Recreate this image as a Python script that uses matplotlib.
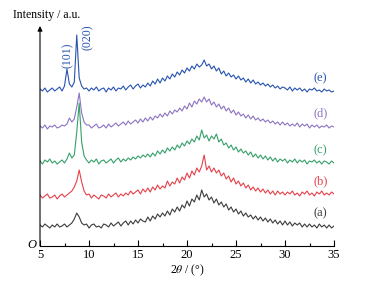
import numpy as np
import matplotlib.pyplot as plt

# 2theta scan, 0.25 deg steps from 5 to 35
two_theta = np.arange(5, 35.001, 0.25)

# relative intensities (a.u.)
a = [1, -1, 2, 0, -2, 1, -1, 2, -1, 0, 2, -1,
     1, 3, 7, 13, 9, 3, 1, 2,
     -2, 1, 2, -1, 0, -2, 2, 1,
     -1, 3, 0, 2, 4, 0, 3, 5,
     1, 5, 2, 6, 3, 7, 5, 4,
     9, 5, 10, 7, 12, 9, 13, 10,
     15, 11, 17, 14, 19, 15, 21, 18,
     25, 20, 27, 24, 31, 26, 36, 29,
     32, 26, 29, 23, 27, 21, 24, 19,
     22, 16, 19, 14, 17, 12, 15, 10,
     13, 9, 11, 7, 10, 6, 9, 5,
     8, 4, 7, 3, 6, 2, 5, 1,
     5, 1, 4, 0, 3, 1, 3, -1,
     2, -1, 2, -1, 1, -2, 2, -1, 1, -2, 1, -2, 0]
b = [2, -1, 1, 3, -1, 0, 2, -2, 1, 3, 0, 2,
     4, 6, 10, 16, 27, 15, 6, 2,
     3, -1, 2, 0, -2, 2, 1, -1,
     3, 0, 2, 4, 0, 3, 1, 4,
     2, 6, 3, 5, 7, 3, 8, 5,
     9, 5, 10, 7, 12, 8, 11, 9,
     16, 11, 15, 13, 19, 14, 20, 17,
     24, 19, 26, 22, 29, 25, 31, 42,
     27, 31, 25, 29, 24, 27, 21, 24,
     18, 21, 15, 19, 13, 16, 11, 14,
     9, 12, 7, 10, 6, 9, 5, 8,
     4, 7, 3, 6, 2, 6, 3, 5,
     2, 5, 3, 6, 2, 4, 1, 5,
     3, 6, 2, 4, 1, 5, 3, 6, 2, 4, 2, 5, 3]
c = [1, -2, 2, 0, 3, -1, 1, -2, 0, 2, -1, 3,
     9, 4, 7, 30, 59, 20, 6, 2,
     -1, 2, 0, 3, -2, 1, 2, -1,
     1, 3, -1, 2, 4, 0, 3, 1,
     4, 2, 5, 3, 6, 4, 7, 5,
     8, 5, 9, 6, 11, 8, 12, 9,
     14, 11, 15, 12, 17, 14, 19, 16,
     21, 18, 23, 20, 26, 22, 32, 24,
     27, 21, 26, 23, 28, 20, 23, 17,
     19, 14, 17, 12, 15, 10, 13, 9,
     11, 7, 10, 5, 8, 4, 7, 3,
     6, 2, 5, 1, 4, 0, 3, 1,
     3, -1, 2, 0, 3, -1, 2, 0,
     2, -2, 1, 0, 2, -1, 1, -2, 1, 0, -2, 1, -1]
d = [1, -1, 2, -2, 1, 0, 2, -1, 0, 2, 1, 3,
     9, 5, 8, 20, 34, 14, 5, 2,
     2, -1, 1, 3, -1, 0, 2, -1,
     3, 0, 2, 4, 1, 3, 5, 2,
     6, 3, 5, 7, 4, 8, 5, 9,
     6, 10, 7, 11, 9, 13, 10, 14,
     11, 16, 13, 17, 15, 19, 16, 21,
     18, 24, 20, 26, 23, 28, 25, 30,
     25, 28, 22, 25, 20, 23, 18, 21,
     16, 19, 14, 17, 12, 15, 11, 13,
     9, 12, 8, 11, 7, 9, 6, 8,
     5, 7, 4, 6, 3, 5, 2, 5,
     2, 4, 1, 3, 1, 4, 0, 3,
     1, 3, -1, 2, 0, 2, -1, 1, 0, 2, -1, 1, 0]
e = [1, -1, 2, -2, 0, 2, -1, 1, 3, -1, 4, 21,
     6, 3, 8, 55, 12, 4, 1, 2,
     -1, 2, 0, 3, -1, 1, 2, -2,
     2, 0, 3, -1, 2, 1, 4, 0,
     3, 5, 1, 4, 6, 2, 5, 3,
     7, 4, 9, 6, 11, 7, 12, 9,
     14, 11, 16, 13, 18, 15, 20, 17,
     22, 19, 24, 21, 26, 23, 25, 30,
     24, 26, 21, 24, 19, 22, 16, 19,
     14, 17, 13, 15, 11, 14, 10, 12,
     8, 11, 7, 10, 6, 8, 5, 7,
     4, 6, 3, 5, 2, 4, 1, 3,
     2, 0, 3, -1, 2, 0, 2, -1,
     1, -2, 1, 0, 2, -1, 0, -2, 1, -1, 0, -2, -1]

samples = [a, b, c, d, e]
names = ['(a)', '(b)', '(c)', '(d)', '(e)']
offsets = [20, 49, 84, 119, 156]
colors = ['#3c3c3c', '#e5414a', '#35a06a', '#8c74c2', '#2753b0']
label_y = [33, 65, 96, 133, 168]

plt.rcParams['font.family'] = ['Liberation Serif', 'DejaVu Serif']
plt.rcParams['mathtext.fontset'] = 'stix'

fig = plt.figure(figsize=(3.65, 2.84), dpi=100)
ax = fig.add_axes([40/365, 38/284, 294/365, 219/284])

for y, off, col, name, ly in zip(samples, offsets, colors, names, label_y):
    ax.plot(two_theta, np.array(y) + off, color=col, lw=0.8)
    ax.text(33.6, ly, name, color=col, fontsize=9, ha='center', va='center')

ax.text(7.8, 191, '(101)', color=colors[4], fontsize=8.5, rotation=90,
        ha='center', va='center')
ax.text(9.9, 209, '(020)', color=colors[4], fontsize=8.5, rotation=90,
        ha='center', va='center')

ax.set_xlim(5, 35)
ax.set_ylim(0, 219)
ax.set_xticks(range(5, 36, 5))
ax.set_xticks(np.arange(7.5, 35, 5), minor=True)
ax.set_yticks([])
ax.tick_params(axis='x', which='major', direction='in', length=4, width=0.8,
               labelsize=9, pad=2)
ax.tick_params(axis='x', which='minor', direction='in', length=2.5, width=0.8)
for s in ['top', 'right', 'left']:
    ax.spines[s].set_visible(False)
ax.spines['bottom'].set_linewidth(0.8)

# y axis with arrow
ax.annotate('', xy=(5, 220), xytext=(5, 0), xycoords='data',
            arrowprops=dict(arrowstyle='-|>', lw=0.8, color='black',
                            mutation_scale=7, shrinkA=0, shrinkB=0),
            annotation_clip=False)

ax.set_xlabel(r'2$\it{\theta}$ / (°)', fontsize=8.5, labelpad=1)
fig.text(13/365, 1 - 15/284, 'Intensity / a.u.', fontsize=8.5,
         ha='left', va='center')
fig.text(32/365, 1 - 245/284, 'O', fontsize=9, style='italic',
         ha='center', va='center')

fig.savefig('out.png', dpi=100)
